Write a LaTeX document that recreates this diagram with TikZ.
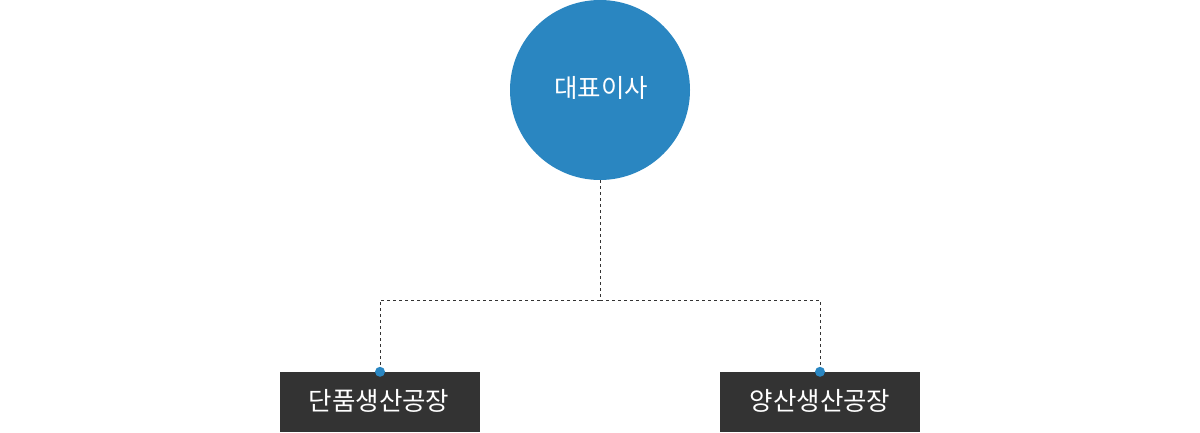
\documentclass[tikz,border=0pt]{standalone}
\usepackage{fontspec}
\newfontfamily\kr{Noto Sans CJK KR}
\definecolor{ceoblue}{HTML}{2A86C1}
\definecolor{boxgray}{HTML}{333333}
\begin{document}
\begin{tikzpicture}[x=1pt,y=-1pt,
  ceo/.style={circle,fill=ceoblue,minimum size=180pt,inner sep=0pt,text=white,font=\kr\fontsize{25.5}{25.5}\selectfont},
  plant/.style={rectangle,fill=boxgray,minimum width=200pt,minimum height=60pt,inner sep=0pt,text=white,font=\kr\fontsize{25.5}{25.5}\selectfont},
  conn/.style={draw=boxgray,line width=0.8pt,dash pattern=on 3pt off 3pt},
  dotmark/.style={circle,fill=ceoblue,minimum size=10pt,inner sep=0pt}]
\useasboundingbox (0,0) rectangle (1200,433);
\node[ceo] (ceo) at (600,90) {};
\node[text=white,font=\kr\fontsize{25.5}{25.5}\selectfont] (ceot) at (601,88) {대표이사};
\node[plant] (p1) at (380,402) {};
\node[plant] (p2) at (820,402) {};
\node[text=white,font=\kr\fontsize{25.5}{25.5}\selectfont] (p1t) at (379,401) {단품생산공장};
\node[text=white,font=\kr\fontsize{25.5}{25.5}\selectfont] (p2t) at (820,401) {양산생산공장};
\coordinate (j) at (600,300);
\draw[conn] (ceo.south) -- (j);
\draw[conn] (j) -| (p1.north);
\draw[conn] (j) -| (p2.north);
\node[dotmark] (d1) at (p1.north) {};
\node[dotmark] (d2) at (p2.north) {};
\end{tikzpicture}
\end{document}
